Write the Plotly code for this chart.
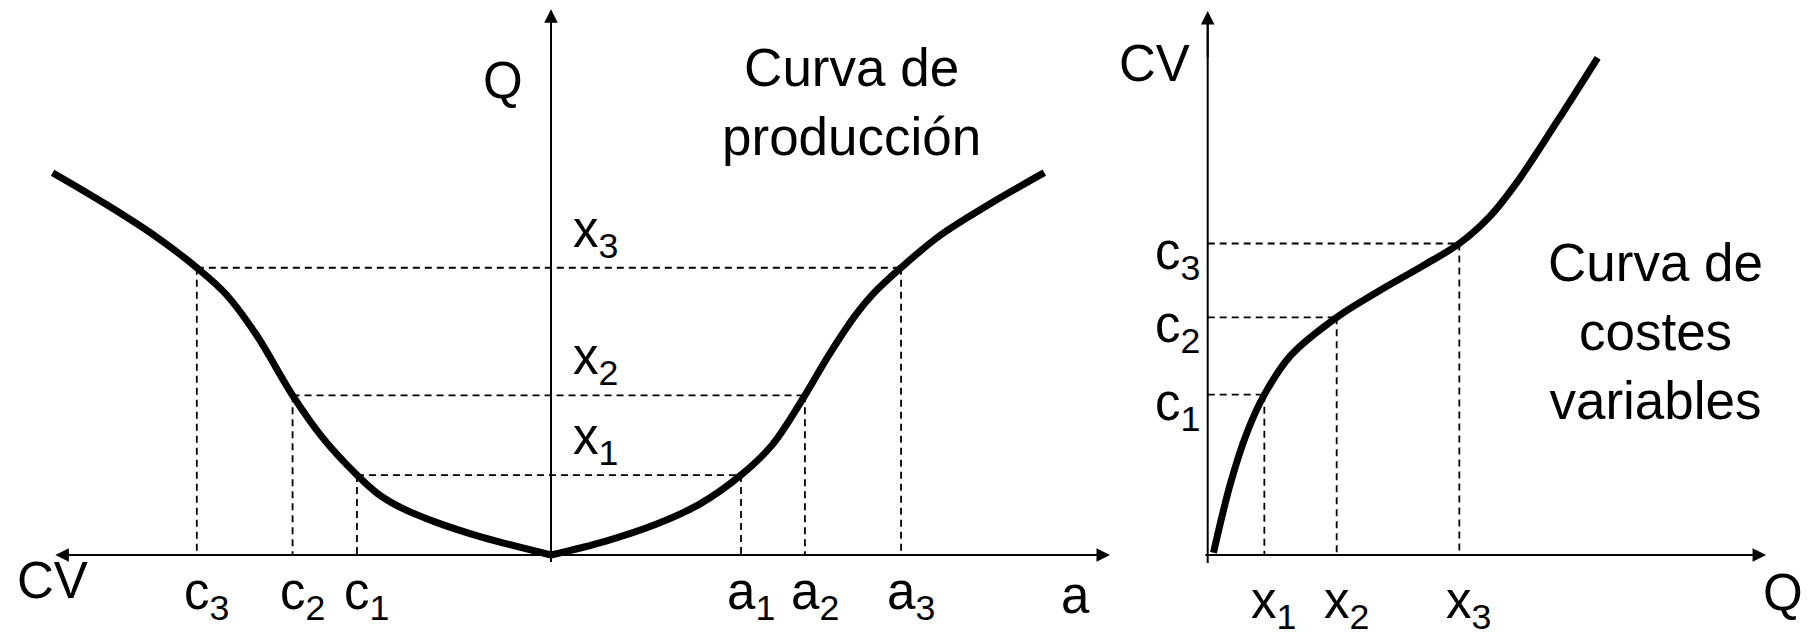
import plotly.graph_objects as go

# ---------------- data (schematic units) ----------------
# Left panel: production curve Q(a) on the right, mirrored cost CV on the left
q_levels = [0.693, 1.384, 2.490]          # x1, x2, x3 (output Q)
a_levels = [1.647, 2.201, 3.034]          # a1, a2, a3 (input)
c_levels_left = [1.682, 2.240, 3.070]     # c1, c2, c3 (cost, drawn to the left)

prod_a = [0.0, 0.477, 0.910, 1.285, 1.647, 1.921, 2.201, 2.412, 2.644, 2.788, 3.034, 3.366, 3.799, 4.276]
prod_q_right = [0.0, 0.121, 0.266, 0.439, 0.693, 0.959, 1.384, 1.739, 2.086, 2.259, 2.490, 2.765, 3.040, 3.314]
prod_c = [0.0, 0.60, 1.00, 1.30, 1.50, 1.682, 1.980, 2.240, 2.557, 2.817, 3.070, 3.424, 3.857, 4.320]
prod_q_left = [0.0, 0.155, 0.285, 0.410, 0.530, 0.693, 1.017, 1.384, 1.913, 2.260, 2.490, 2.760, 3.040, 3.314]

# Right panel: variable cost curve CV(Q)
cv_q = [0.05, 0.20, 0.34, 0.491, 0.72, 1.118, 1.47, 1.87, 2.181, 2.45, 2.68, 3.03, 3.38]
cv_c = [0.02, 0.63, 1.06, 1.39, 1.73, 2.06, 2.28, 2.51, 2.70, 2.94, 3.23, 3.76, 4.31]
x_levels_right = [0.491, 1.118, 2.181]
c_levels_right = [1.39, 2.06, 2.70]

q_tick_labels = ["x<sub>1</sub>", "x<sub>2</sub>", "x<sub>3</sub>"]
a_tick_labels = ["a<sub>1</sub>", "a<sub>2</sub>", "a<sub>3</sub>"]
c_tick_labels = ["c<sub>1</sub>", "c<sub>2</sub>", "c<sub>3</sub>"]

W, H = 1809, 635
FONT = "Liberation Sans, Arial, sans-serif"
FS = 51
FS_TITLE = 53

fig = go.Figure()

dash = dict(color="black", width=1.8, dash="7px,5px")
axis_line = dict(color="black", width=2)
curve_line = dict(color="black", width=7, shape="spline", smoothing=1.0)


def line(xs, ys, style, xa="x", ya="y"):
    fig.add_trace(go.Scatter(x=xs, y=ys, mode="lines", line=style,
                             xaxis=xa, yaxis=ya, hoverinfo="skip"))


# ---- left panel dashed guides ----
for q, a, c in zip(q_levels, a_levels, c_levels_left):
    line([-c, a], [q, q], dash)
    line([a, a], [q, 0], dash)
    line([-c, -c], [q, 0], dash)

# ---- left panel axes ----
line([0, 0], [-0.06, 4.6], axis_line)
line([-4.2, 4.75], [0, 0], axis_line)

# ---- production curve ----
line(prod_a, prod_q_right, curve_line)
line([-c for c in prod_c], prod_q_left, curve_line)

# ---- right panel dashed guides ----
for xq, c in zip(x_levels_right, c_levels_right):
    line([0, xq], [c, c], dash, "x2", "y2")
    line([xq, xq], [c, 0], dash, "x2", "y2")

line([0, 0], [-0.07, 4.6], axis_line, "x2", "y2")
line([-0.02, 4.75], [0, 0], axis_line, "x2", "y2")

line(cv_q, cv_c, curve_line, "x2", "y2")

ann = []


def arrow(xt, yt, xs, ys, xr, yr):
    ann.append(dict(x=xt, y=yt, ax=xs, ay=ys, xref=xr, yref=yr, axref=xr, ayref=yr,
                    text="", showarrow=True, arrowhead=2, arrowsize=1.35,
                    arrowwidth=2, arrowcolor="black", standoff=0, startstandoff=0))


arrow(0, 4.73, 0, 4.3, "x", "y")
arrow(-4.296, 0, -3.9, 0, "x", "y")
arrow(4.845, 0, 4.4, 0, "x", "y")
arrow(0, 4.715, 0, 4.3, "x2", "y2")
arrow(4.84, 0, 4.4, 0, "x2", "y2")


def label(txt, x, y, xr, yr, xanchor="center", yanchor="middle", xshift=0, yshift=0, fs=FS):
    ann.append(dict(x=x, y=y, xref=xr, yref=yr, text=txt, showarrow=False,
                    xanchor=xanchor, yanchor=yanchor, xshift=xshift, yshift=yshift,
                    font=dict(family=FONT, size=fs, color="black")))


# left panel labels
label("Q", -0.416, 4.117, "x", "y")
label("Curva de<br>producción", 2.604, 3.90, "x", "y", yshift=3, fs=FS_TITLE)
label("CV", -4.325, -0.225, "x", "y")
label("a", 4.55, -0.355, "x", "y")
for c, t in zip(c_levels_left, c_tick_labels):
    label(t, -c, -0.355, "x", "y", xanchor="left", xshift=-15)
for a, t in zip(a_levels, a_tick_labels):
    label(t, a, -0.355, "x", "y", xanchor="left", xshift=-16)
for q, t in zip(q_levels, q_tick_labels):
    label(t, 0.17, q + 0.30, "x", "y", xanchor="left")

# right panel labels
label("CV", -0.457, 4.264, "x2", "y2")
label("Q", 4.987, -0.329, "x2", "y2")
label("Curva de<br>costes<br>variables", 3.882, 1.94, "x2", "y2", fs=FS_TITLE)
for xq, t in zip(x_levels_right, q_tick_labels):
    label(t, xq, -0.451, "x2", "y2", xanchor="left", xshift=-15, yshift=3)
for c, t in zip(c_levels_right, c_tick_labels):
    label(t, -0.05, c - 0.10, "x2", "y2", xanchor="right")

ax_common = dict(visible=False, showgrid=False, zeroline=False, fixedrange=True)
U = 115.37  # px per unit
ORX_L, ORX_R, ORY = 551.0, 1207.7, 555.0

fig.update_layout(
    width=W, height=H,
    margin=dict(l=0, r=0, t=0, b=0, pad=0),
    paper_bgcolor="white", plot_bgcolor="white",
    showlegend=False,
    xaxis=dict(domain=[0, 1], range=[-ORX_L / U, (W - ORX_L) / U], **ax_common),
    yaxis=dict(domain=[0, 1], range=[-(H - ORY) / U, ORY / U], **ax_common),
    xaxis2=dict(domain=[0, 1], range=[-ORX_R / U, (W - ORX_R) / U], anchor="y2",
                overlaying="x", **ax_common),
    yaxis2=dict(domain=[0, 1], range=[-(H - ORY) / U, ORY / U], anchor="x2",
                overlaying="y", **ax_common),
    annotations=ann,
)

fig.write_html("out.html", config={"displayModeBar": False},
               post_script="document.body.style.margin='0px';")
